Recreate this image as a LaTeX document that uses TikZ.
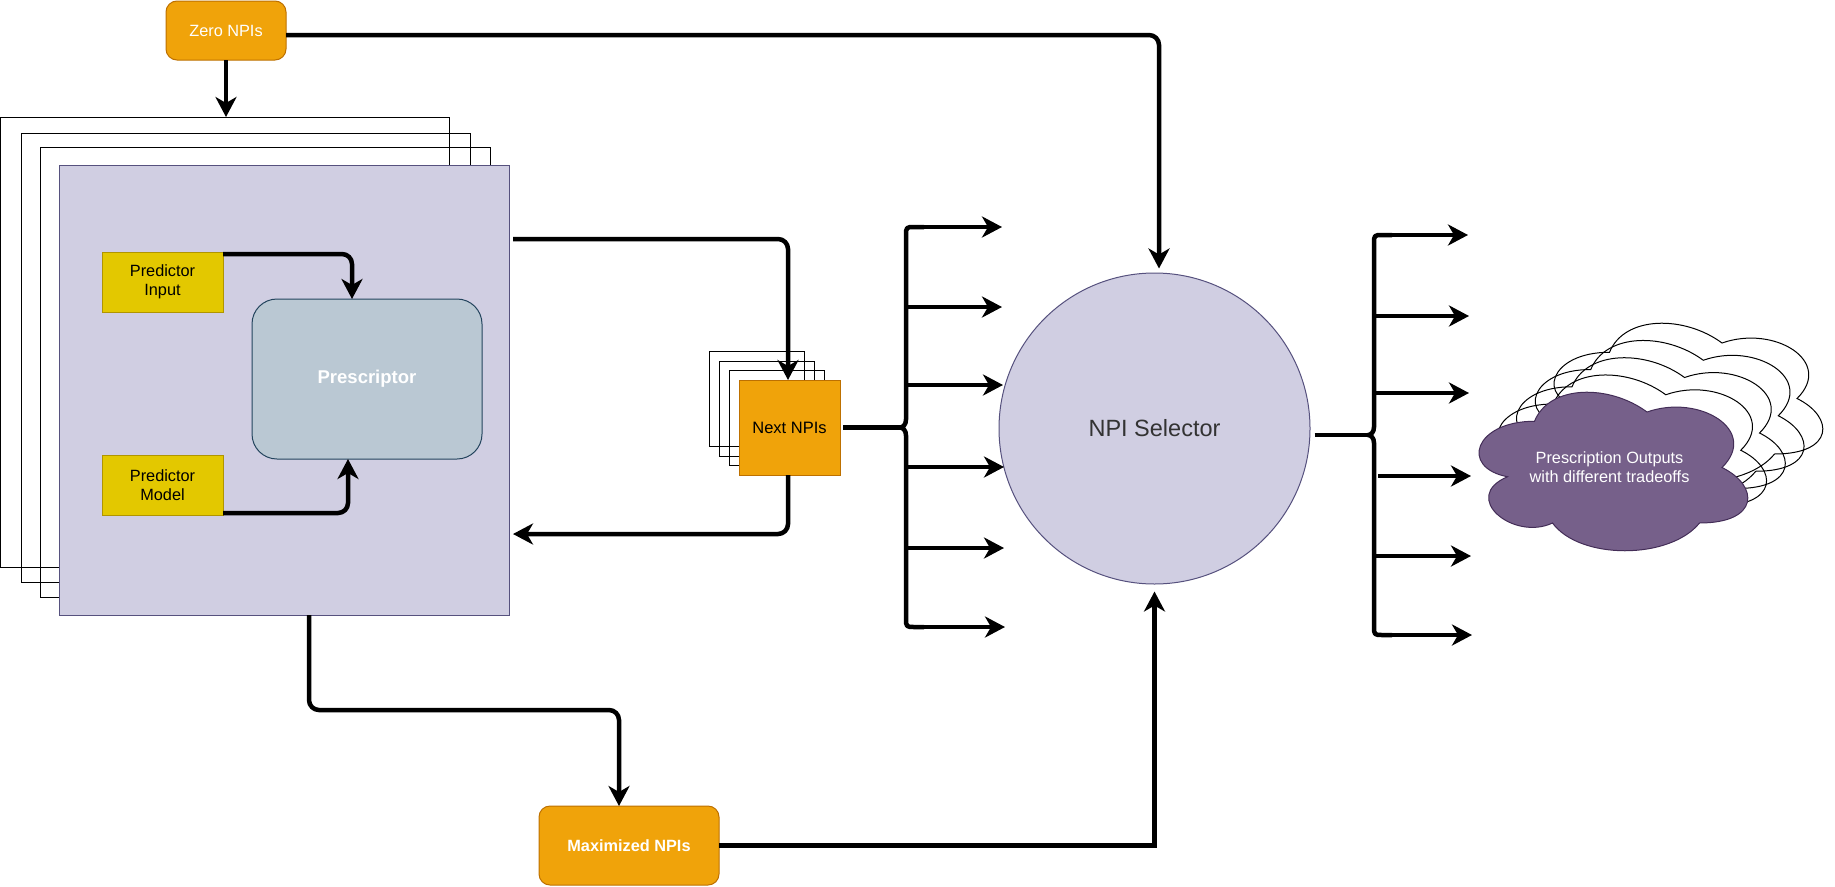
\documentclass[tikz,border=0pt]{standalone}
\usepackage{fontspec}
\setmainfont{Liberation Sans}
\usetikzlibrary{arrows.meta,calc}
\definecolor{orfill}{HTML}{F0A30A}
\definecolor{ordraw}{HTML}{BD7000}
\definecolor{yefill}{HTML}{E3C800}
\definecolor{yedraw}{HTML}{B09500}
\definecolor{lafill}{HTML}{D0CEE2}
\definecolor{ladraw}{HTML}{56517E}
\definecolor{blfill}{HTML}{BAC8D3}
\definecolor{bldraw}{HTML}{23445D}
\definecolor{pufill}{HTML}{76608A}
\definecolor{pudraw}{HTML}{432D57}
\definecolor{seltext}{HTML}{333333}
\newcommand\mycloudshape[3]{%
  \path[#1, shift={(#2,#3)}] (75,46.25)
    .. controls (15,46.25) and (0,92.5) .. (48,101.75)
    .. controls (0,122.1) and (54,166.5) .. (93,148)
    .. controls (120,185) and (210,185) .. (240,148)
    .. controls (300,148) and (300,111) .. (262.5,92.5)
    .. controls (300,55.5) and (240,18.5) .. (187.5,37)
    .. controls (150,9.25) and (90,9.25) .. (75,46.25) -- cycle;}
% bracket: #1 x of spine, #2 top y, #3 middle y, #4 bottom y, #5 name of point
\newcommand\mybracket[5]{%
  \coordinate (#5) at ({#1-6},#3);
  \draw[line width=4.5pt, line join=round]
    ({#1+18},#2) -- ({#1+9},#2) .. controls (#1,#2) .. (#1,{#2+9})
    -- (#1,{#3-8}) .. controls (#1,{#3-3}) and ({#1-3},#3) .. (#5)
    .. controls ({#1-3},#3) and (#1,{#3+3}) .. (#1,{#3+8})
    -- (#1,{#4-9}) .. controls (#1,#4) .. ({#1+9},#4) -- ({#1+18},#4);}
\tikzset{
  box/.style={inner sep=0pt, outer sep=0pt, align=center},
  orbox/.style={box, draw=ordraw, fill=orfill, line width=1pt, rounded corners=11pt, text=white},
  yebox/.style={box, draw=yedraw, fill=yefill, line width=1pt, text=black,
     minimum width=121pt, minimum height=60pt, font=\fontsize{16.3}{19}\selectfont},
  backrect/.style={box, draw=black, line width=1pt},
  conn/.style={line width=4.5pt, rounded corners=10pt, -{Stealth[length=20pt,width=21pt,inset=6pt]}},
  plainconn/.style={line width=4.5pt, -{Stealth[length=20pt,width=21pt,inset=6pt]}},
}
\begin{document}
\begin{tikzpicture}[x=1pt,y=-1pt]
\useasboundingbox (0,0) rectangle (1835,886);
% stacked back rectangles behind the main panel
\node[backrect, minimum width=449pt, minimum height=450pt] (st1) at (225,342) {};
\node[backrect, minimum width=449pt, minimum height=449pt] (st2) at (245.5,357.5) {};
\node[backrect, minimum width=450pt, minimum height=450pt] (st3) at (265,372) {};
\node[box, draw=ladraw, fill=lafill, line width=1pt, minimum width=450pt, minimum height=450pt] (main) at (284,390) {};
% inside the panel
\node[yebox] (pin) at (162.5,282) {Predictor\\Input};
\node[yebox] (pm) at (162.5,485) {Predictor\\Model};
\node[box, draw=bldraw, fill=blfill, line width=1pt, rounded corners=25pt,
      minimum width=230pt, minimum height=160pt, text=white,
      font=\fontsize{18.5}{22}\selectfont\bfseries] (presc) at (367,379) {Prescriptor};
% top and bottom orange boxes
\node[orbox, minimum width=120pt, minimum height=59pt, font=\fontsize{16.3}{19}\selectfont] (zero) at (226,30.5) {Zero NPIs};
\node[orbox, minimum width=180pt, minimum height=79pt, font=\fontsize{16.3}{19}\selectfont\bfseries] (maxn) at (629,845.5) {Maximized NPIs};
% Next NPIs stack
\node[backrect, minimum width=95pt, minimum height=95pt] (ns1) at (756.5,398.5) {};
\node[backrect, minimum width=95pt, minimum height=95pt] (ns2) at (766.5,408.5) {};
\node[backrect, minimum width=95pt, minimum height=95pt] (ns3) at (776.5,417.5) {};
\node[box, draw=ordraw, fill=orfill, line width=1pt, minimum width=101pt, minimum height=95pt,
      text=black, font=\fontsize{16.5}{19}\selectfont] (next) at (789.5,427.5) {Next NPIs};
% NPI selector
\node[circle, draw=ladraw, fill=lafill, line width=1pt, inner sep=0pt, minimum size=311pt,
      text=seltext, font=\fontsize{23.5}{28}\selectfont] (sel) at (1154.5,428.5) {NPI Selector};
% clouds
\foreach \k in {4,3,2,1}{
  \mycloudshape{draw=black, line width=1pt}{1459.5+18.75*\k}{375-17.25*\k}
}
\mycloudshape{draw=pudraw, fill=pufill, line width=1pt}{1459.5}{375}
\node[box, text=white, font=\fontsize{16.3}{19}\selectfont] (cloudtxt) at (1609.5,467) {Prescription Outputs\\with different tradeoffs};
% connectors
\draw[conn] (zero.south) -- (zero.south |- st1.north);
\draw[conn] ([yshift=-4.5pt]zero.east) -| ($(sel.north)+(4.5,-4)$);
\draw[conn] ([yshift=-2pt]pin.north east) -| ($(presc.north)+(-15,0)$);
\draw[conn] ([yshift=2pt]pm.south east) -| ($(presc.south)+(-19,0)$);
\draw[conn] ($(main.north east)+(4,74)$) -| ($(next.north)+(-1.5,0)$);
\draw[conn] ($(next.south)+(-1.5,0)$) |- ($(main.north east)+(4,369)$);
\draw[conn] ($(main.south west)+(250,0)$) -- ++(0,95) -| ($(maxn.north)+(-10,0)$);
\draw[plainconn] (maxn.east) -| ($(sel.south)+(0,7)$);
% left bracket
\mybracket{906}{227}{427.5}{627}{lbp}
\draw[line width=4.5pt] ($(next.east)+(3,0)$) -- (lbp);
\foreach \yy/\xe/\xs [count=\i] in {227/1002/918,307/1002/906,385/1003/906,467/1004/906,548/1004/906,627/1005/918}{
  \coordinate (la\i) at (\xe,\yy);
  \draw[plainconn] (\xs,\yy) -- (la\i);
}
% right bracket
\mybracket{1374}{235}{435}{635}{rbp}
\draw[line width=4.5pt] ($(sel.east)+(4,6.5)$) -- (rbp);
\foreach \yy/\xe/\xs [count=\i] in {235/1468/1385,316/1469/1374,393/1469/1374,476/1471/1378,556/1471/1374,635/1472/1385}{
  \coordinate (ra\i) at (\xe,\yy);
  \draw[plainconn] (\xs,\yy) -- (ra\i);
}
\end{tikzpicture}
\end{document}
